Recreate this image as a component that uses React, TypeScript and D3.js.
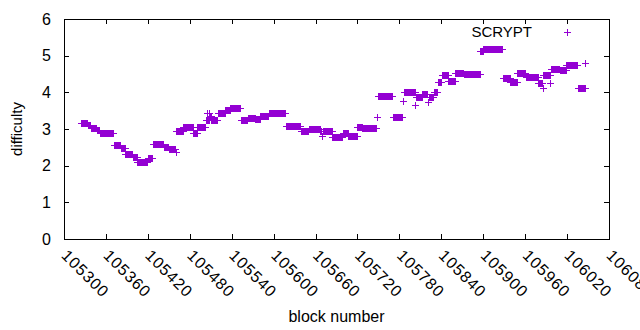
import React from "react";
import * as d3 from "d3";

// Runs of constant difficulty (block start, block end, value)
const runStart = [
  105324, 105334, 105338, 105347, 105351, 105371, 105381, 105388, 105399, 105405,
  105420, 105427, 105443, 105450, 105460, 105461, 105471, 105485, 105491, 105503,
  105505, 105506, 105508, 105509, 105511, 105520, 105531, 105538, 105553, 105563,
  105574, 105581, 105593, 105618, 105639, 105650, 105667, 105669, 105670, 105684,
  105699, 105707, 105720, 105727, 105748, 105749, 105771, 105785, 105786, 105803,
  105804, 105813, 105821, 105822, 105829, 105835, 105841, 105850, 105860, 105872,
  105896, 105900, 105928, 105939, 105949, 105961, 105979, 105985, 105986, 105996,
  105997, 106010, 106019, 106035, 106046,
];
const runEnd = [
  105333, 105337, 105346, 105350, 105370, 105380, 105387, 105398, 105404, 105419,
  105426, 105442, 105449, 105459, 105460, 105470, 105484, 105490, 105502, 105504,
  105505, 105507, 105508, 105510, 105519, 105530, 105537, 105552, 105562, 105573,
  105580, 105592, 105616, 105638, 105649, 105666, 105668, 105669, 105683, 105698,
  105706, 105719, 105726, 105747, 105748, 105770, 105784, 105785, 105802, 105803,
  105812, 105820, 105821, 105828, 105834, 105840, 105849, 105859, 105871, 105895,
  105899, 105927, 105938, 105948, 105960, 105978, 105984, 105985, 105995, 105996,
  106009, 106018, 106034, 106045, 106046,
];
const runValue = [
  3.16, 3.1, 3.04, 2.97, 2.88, 2.56, 2.48, 2.31, 2.23, 2.11,
  2.21, 2.58, 2.5, 2.46, 2.38, 2.94, 3.06, 2.88, 3.05, 3.25,
  3.43, 3.25, 3.43, 3.35, 3.25, 3.43, 3.52, 3.56, 3.25, 3.29,
  3.27, 3.35, 3.43, 3.07, 2.94, 2.99, 2.95, 2.8, 2.95, 2.79,
  2.9, 2.82, 3.06, 3.04, 3.34, 3.91, 3.34, 3.76, 4.0, 3.65,
  3.86, 3.95, 3.73, 3.88, 4.02, 4.27, 4.47, 4.32, 4.54, 4.5,
  5.14, 5.19, 4.38, 4.28, 4.52, 4.41, 4.25, 4.11, 4.47, 4.25,
  4.64, 4.6, 4.75, 4.11, 4.8,
];

const xTicks = [
  105300, 105360, 105420, 105480, 105540, 105600, 105660, 105720,
  105780, 105840, 105900, 105960, 106020, 106080,
];
const yTicks = [0, 1, 2, 3, 4, 5, 6];
const seriesName = "SCRYPT";

const W = 640;
const H = 330;
const M = { left: 64, right: 609, top: 19, bottom: 239 };
const COLOR = "#9400d3";
const FONT = "'Liberation Sans', Arial, sans-serif";

export default function App() {
  const x = d3.scaleLinear().domain([105300, 106080]).range([M.left, M.right]);
  const y = d3.scaleLinear().domain([0, 6]).range([M.bottom, M.top]);

  const points: { b: number; v: number }[] = [];
  runStart.forEach((s, i) => {
    for (let b = s; b <= runEnd[i]; b++) points.push({ b, v: runValue[i] });
  });

  const plus = (px: number, py: number) => {
    const cx = Math.round(px) + 0.5;
    const cy = Math.round(py) + 0.5;
    return `M${cx - 3.5},${cy}H${cx + 3.5}M${cx},${cy - 3.5}V${cy + 3.5}`;
  };
  const path = points.map((p) => plus(x(p.b), y(p.v))).join("");

  const tick = 5;
  return (
    <svg
      width={W}
      height={H}
      style={{ position: "absolute", left: 0, top: 0, background: "#fff" }}
      fontFamily={FONT}
    >
      <rect width={W} height={H} fill="#fff" />
      {/* ticks */}
      <g stroke="#000" strokeWidth={1}>
        {yTicks.map((t) => {
          const yy = Math.round(y(t)) + 0.5;
          return (
            <g key={"y" + t}>
              <line x1={M.left} x2={M.left + tick} y1={yy} y2={yy} />
              <line x1={M.right - tick} x2={M.right} y1={yy} y2={yy} />
            </g>
          );
        })}
        {xTicks.map((t) => {
          const xx = Math.round(x(t)) + 0.5;
          return (
            <g key={"x" + t}>
              <line x1={xx} x2={xx} y1={M.bottom} y2={M.bottom - tick} />
              <line x1={xx} x2={xx} y1={M.top} y2={M.top + tick} />
            </g>
          );
        })}
        <rect
          x={M.left + 0.5}
          y={M.top + 0.5}
          width={M.right - M.left}
          height={M.bottom - M.top}
          fill="none"
        />
      </g>
      {/* y tick labels */}
      {yTicks.map((t) => (
        <text
          key={"yl" + t}
          x={M.left - 13}
          y={y(t) + 5.5}
          textAnchor="end"
          fontSize={16}
          fill="#000"
        >
          {t}
        </text>
      ))}
      {/* x tick labels */}
      {xTicks.map((t) => (
        <text
          key={"xl" + t}
          transform={`translate(${x(t) + 5},${M.bottom + 9}) rotate(45)`}
          dy="0.75em"
          textAnchor="start"
          fontSize={16}
          letterSpacing={1}
          fill="#000"
        >
          {t}
        </text>
      ))}
      {/* axis titles */}
      <text
        x={(M.left + M.right) / 2}
        y={322}
        textAnchor="middle"
        fontSize={16}
        fill="#000"
      >
        block number
      </text>
      <text
        transform={`translate(22,${(M.top + M.bottom) / 2}) rotate(-90)`}
        textAnchor="middle"
        fontSize={15}
        fill="#000"
      >
        difficulty
      </text>
      {/* data */}
      <path d={path} stroke={COLOR} strokeWidth={1} fill="none" />
      {/* legend */}
      <text x={532} y={37} textAnchor="end" fontSize={15} fill="#000">
        {seriesName}
      </text>
      <path d={plus(567, 32)} stroke={COLOR} strokeWidth={1} fill="none" />
    </svg>
  );
}
